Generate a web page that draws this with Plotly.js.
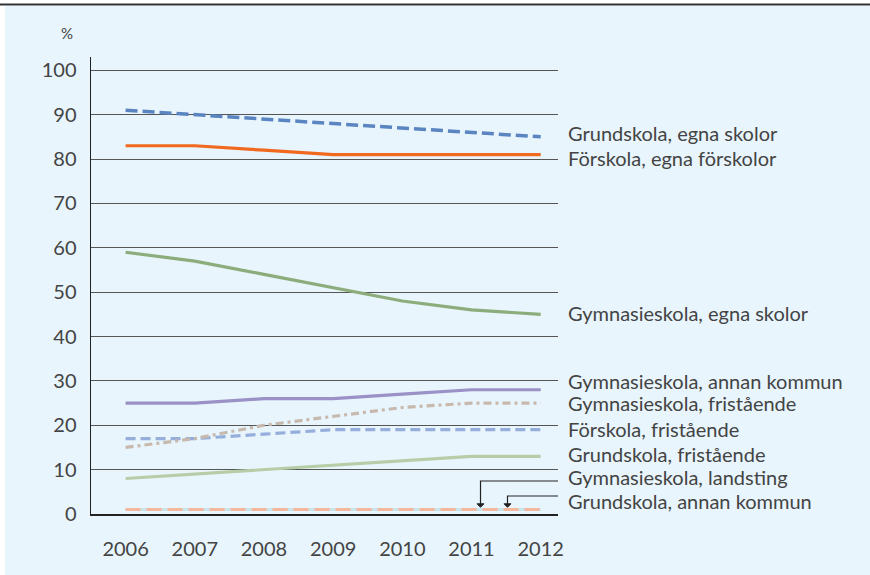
<!DOCTYPE html>
<html><head><meta charset="utf-8">
<script src="https://cdn.plot.ly/plotly-3.0.1.min.js"></script>
<style>html,body{margin:0;padding:0;background:#fff}#chart{width:870px;height:575px}</style>
</head><body><div id="chart"></div>
<script>
const years = [2006, 2007, 2008, 2009, 2010, 2011, 2012];
const grundEgna = [91, 90, 89, 88, 87, 86, 85];
const forEgna = [83, 83, 82, 81, 81, 81, 81];
const gymEgna = [59, 57, 54, 51, 48, 46, 45];
const gymAnnan = [25, 25, 26, 26, 27, 28, 28];
const gymFri = [15, 17, 20, 22, 24, 25, 25];
const forFri = [17, 17, 18, 19, 19, 19, 19];
const grundFri = [8, 9, 10, 11, 12, 13, 13];
const gymLandsting = [1, 1, 1, 1, 1, 1, 1];
const grundAnnan = [1, 1, 1, 1, 1, 1, 1];
const yTicks = [0, 10, 20, 30, 40, 50, 60, 70, 80, 90, 100];

const labels = [
  {t: 'Grundskola, egna skolor', y: 85.9},
  {t: 'Förskola, egna förskolor', y: 80.2},
  {t: 'Gymnasieskola, egna skolor', y: 45.2},
  {t: 'Gymnasieskola, annan kommun', y: 30},
  {t: 'Gymnasieskola, fristående', y: 25.0},
  {t: 'Förskola, fristående', y: 19.2},
  {t: 'Grundskola, fristående', y: 13.6},
  {t: 'Gymnasieskola, landsting', y: 8.3},
  {t: 'Grundskola, annan kommun', y: 3.0}
];

const FONT = 'Lato, sans-serif';
const TXT = '#444444';

function tr(y, color, dash, width) {
  return {x: years, y: y, type: 'scatter', mode: 'lines',
    line: {color: color, width: width || 3, dash: dash || 'solid'}, hoverinfo: 'skip'};
}
const data = [
  tr(gymLandsting, '#c8e4ea', 'solid', 3),
  tr(grundAnnan, '#f4b69c', '15px,6px', 3),
  tr(grundFri, '#b6cda8', 'solid', 3.2),
  tr(forFri, '#95aedb', '10px,5px', 3.2),
  tr(gymFri, '#c7b9ad', '8px,4px,3px,4px', 3.2),
  tr(gymAnnan, '#9a91c6', 'solid', 3.2),
  tr(gymEgna, '#8cad7b', 'solid', 3.2),
  tr(forEgna, '#f0691f', 'solid', 3.2),
  tr(grundEgna, '#5a85c0', '12px,5px', 3.5)
];

const annotations = labels.map(l => ({
  xref: 'paper', yref: 'y', x: 1, y: l.y, xanchor: 'left', yanchor: 'middle',
  xshift: 8, text: l.t, showarrow: false,
  font: {family: FONT, size: 20, color: TXT}
}));
annotations.push({xref: 'paper', yref: 'paper', x: 0, y: 1, xshift: -24, yshift: 24,
  text: '%', showarrow: false, xanchor: 'center', yanchor: 'middle',
  font: {family: FONT, size: 15, color: TXT}});

const shapes = [
  {type: 'rect', xref: 'paper', yref: 'paper', x0: -0.1841, x1: 1.68, y0: -0.15, y1: 1.1116,
   fillcolor: '#e8f5fd', line: {width: 0}, layer: 'below'},
  {type: 'line', xref: 'paper', yref: 'paper', x0: -0.2, x1: 1.7, y0: 1.1149, y1: 1.1149,
   line: {color: '#333', width: 2}},
  // leader lines
  {type: 'path', xref: 'x', yref: 'y', path: 'M 2012.25 7.44 L 2011.13 7.44 L 2011.13 2.1', line: {color: '#222', width: 1.2}},
  {type: 'path', xref: 'x', yref: 'y', path: 'M 2012.25 4.06 L 2011.52 4.06 L 2011.52 2.1', line: {color: '#222', width: 1.2}},
  {type: 'path', xref: 'x', yref: 'y', path: 'M 2011.08 2.3 L 2011.18 2.3 L 2011.13 1.5 Z', fillcolor: '#222', line: {color: '#222', width: 1}},
  {type: 'path', xref: 'x', yref: 'y', path: 'M 2011.47 2.3 L 2011.57 2.3 L 2011.52 1.5 Z', fillcolor: '#222', line: {color: '#222', width: 1}}
];

const layout = {
  width: 870, height: 575,
  margin: {l: 91, r: 312, t: 57, b: 61},
  paper_bgcolor: '#ffffff', plot_bgcolor: 'rgba(0,0,0,0)',
  showlegend: false,
  font: {family: FONT, color: TXT},
  xaxis: {range: [2005.5, 2012.25], tickvals: years, ticktext: years.map(String),
    showgrid: false, zeroline: false, showline: true, linecolor: '#222', linewidth: 1.5,
    ticks: '', ticklen: 0, ticklabelstandoff: 16, tickfont: {family: FONT, size: 20, color: TXT}, fixedrange: true},
  yaxis: {range: [0, 103], tickvals: yTicks, ticktext: yTicks.map(String),
    showgrid: true, gridcolor: '#555', gridwidth: 1, zeroline: false,
    showline: true, linecolor: '#222', linewidth: 1.5, ticks: '', ticklen: 0, ticklabelstandoff: 9,
    tickfont: {family: FONT, size: 20, color: TXT}, fixedrange: true},
  annotations: annotations, shapes: shapes
};
Plotly.newPlot('chart', data, layout, {displayModeBar: false, staticPlot: true});
</script></body></html>
